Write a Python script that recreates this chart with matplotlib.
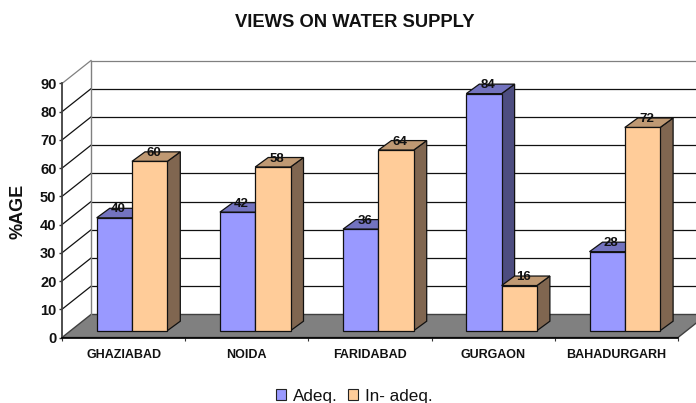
import matplotlib
matplotlib.use("Agg")
import matplotlib.pyplot as plt
from matplotlib.patches import Patch

plt.rcParams['font.family'] = ['Liberation Sans', 'DejaVu Sans']

# Veriler
sehirler = ["GHAZIABAD", "NOIDA", "FARIDABAD", "GURGAON", "BAHADURGARH"]
adeq = [40, 42, 36, 84, 28]
inadeq = [60, 58, 64, 16, 72]
y_ticks = [0, 10, 20, 30, 40, 50, 60, 70, 80, 90]

W, H = 696, 403
fig = plt.figure(figsize=(W / 100, H / 100), dpi=100)

# on duzlem piksel olarak: x 62-678, y 337.5-83.5
ax = fig.add_axes([62 / W, (H - 337.5) / H, 616 / W, 254 / H])
ax.set_xlim(0, 5)
ax.set_ylim(0, 90)
ax.patch.set_visible(False)
for s in ax.spines.values():
    s.set_visible(False)

# piksel -> veri birimi
ux = 5 / 616
uy = 90 / 254

# 3B derinlik (piksel)
duvar_dx, duvar_dy = 29 * ux, 23 * uy
on_dx, on_dy = 8.4 * ux, 6.8 * uy
bar_dx, bar_dy = 13 * ux, 9.5 * uy
bar_w = 35.3 * ux


def poly(xs, ys, z, **kw):
    ax.fill(xs, ys, clip_on=False, zorder=z, **kw)


# zemin
poly([0, 5, 5 + duvar_dx, duvar_dx], [0, 0, duvar_dy, duvar_dy], 1,
     facecolor="#808080", edgecolor="#404040", linewidth=1)

# izgara cizgileri
for t in y_ticks:
    renk = "#808080" if t == 90 else "#111111"
    if t > 0:
        ax.plot([0, duvar_dx], [t, t + duvar_dy], color=renk, lw=0.9, clip_on=False, zorder=2)
        ax.plot([duvar_dx, 5 + duvar_dx], [t + duvar_dy, t + duvar_dy], color=renk, lw=0.9,
                clip_on=False, zorder=2)
ax.plot([duvar_dx, duvar_dx], [duvar_dy, 90 + duvar_dy], color="#808080", lw=1, clip_on=False, zorder=2)
ax.plot([0, 0], [0, 90], color="#404040", lw=1.3, clip_on=False, zorder=3)
ax.plot([0, 5], [0, 0], color="black", lw=1.2, clip_on=False, zorder=3)


def cubuk(x0, deger, on_renk, ust_renk, yan_renk, z):
    x1 = x0 + bar_w
    y0 = on_dy
    y1 = deger + on_dy
    kw = dict(edgecolor="#111111", linewidth=0.9)
    poly([x1, x1 + bar_dx, x1 + bar_dx, x1], [y0, y0 + bar_dy, y1 + bar_dy, y1], z, facecolor=yan_renk, **kw)
    poly([x0, x1, x1 + bar_dx, x0 + bar_dx], [y1, y1, y1 + bar_dy, y1 + bar_dy], z, facecolor=ust_renk, **kw)
    poly([x0, x1, x1, x0], [y0, y0, y1, y1], z + 0.1, facecolor=on_renk, **kw)
    ax.text(x0 + bar_w / 2 + 4 * ux, y1 + 8.5 * uy, str(deger), ha="center", va="center",
            fontsize=9.5, fontweight="bold", color="#111111", clip_on=False, zorder=20)


for i in range(len(sehirler)):
    merkez = i + 0.5 + on_dx
    cubuk(merkez - bar_w, adeq[i], "#9999FF", "#7373BF", "#4D4D80", 5 + i)
    cubuk(merkez, inadeq[i], "#FFCC99", "#BF9973", "#806650", 5.5 + i)

# eksenler
ax.set_yticks(y_ticks)
ax.set_yticklabels([str(t) for t in y_ticks], fontsize=10.5, fontweight="bold", color="#111111")
ax.tick_params(axis="y", length=2.5, width=1, pad=1.5, color="#333333")
ax.set_xticks(range(6))
ax.set_xticklabels([])
ax.tick_params(axis="x", which="major", length=2.5, width=0.8, color="#333333")
ax.set_xticks([i + 0.5 for i in range(5)], minor=True)
ax.set_xticklabels(sehirler, minor=True, fontsize=9, fontweight="bold", color="#111111")
ax.tick_params(axis="x", which="minor", length=0, pad=8.5)

fig.text(354.5 / W, 1 - 22.5 / H, "VIEWS ON WATER SUPPLY", ha="center", va="center",
         fontsize=13.2, fontweight="bold", color="#111111")
fig.text(18 / W, 1 - 211.5 / H, "%AGE", rotation=90, ha="center", va="center",
         fontsize=13, fontweight="bold", color="#111111")

handles = [Patch(facecolor="#9999FF", edgecolor="#222222", linewidth=0.8),
           Patch(facecolor="#FFCC99", edgecolor="#222222", linewidth=0.8)]
fig.legend(handles, ["Adeq.", "In- adeq."], ncol=2, frameon=False, fontsize=12.3,
           loc="center", bbox_to_anchor=(354.5 / W, 1 - 396 / H),
           handlelength=0.6, handleheight=0.6, handletextpad=0.4, columnspacing=0.6,
           labelcolor="#111111", borderpad=0)

fig.savefig("out.png", dpi=100)
